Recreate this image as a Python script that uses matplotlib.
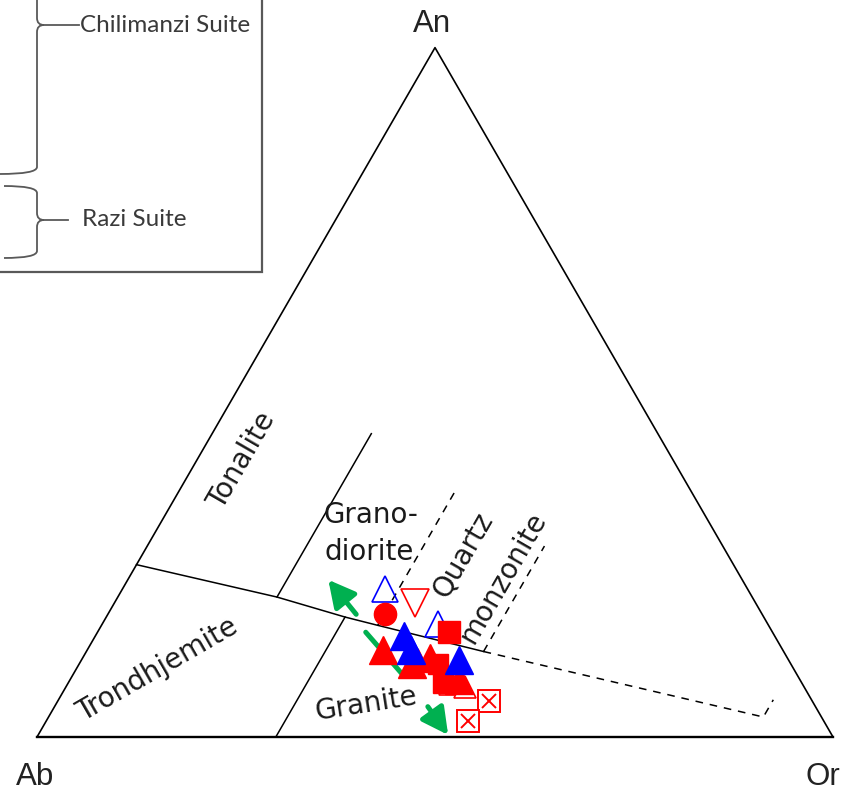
import numpy as np
import matplotlib.pyplot as plt
from matplotlib.path import Path
from matplotlib.patches import PathPatch, FancyArrowPatch, Rectangle

# ternary values in percent: (An, Or), Ab = 100 - An - Or
red_fill_tri_an = [12.6, 10.6, 11.5, 8.3]
red_fill_tri_or = [37.2, 41.8, 43.6, 48.9]
red_square_an = [15.2, 10.6, 7.8]
red_square_or = [44.1, 45.1, 47.1]
red_circle_an = [17.8]
red_circle_or = [34.8]
red_open_tri_an = [11.2, 7.7, 7.3]
red_open_tri_or = [42.3, 48.0, 50.1]
red_inv_tri_an = [19.4]
red_inv_tri_or = [37.8]
red_boxx_an = [5.2, 2.3]
red_boxx_or = [54.2, 53.0]
blue_fill_tri_an = [14.7, 12.6, 11.2]
blue_fill_tri_or = [38.7, 40.7, 47.4]
blue_open_tri_an = [21.5, 16.4]
blue_open_tri_or = [33.0, 42.2]

# trend arrows (start An, start Or, end An, end Or)
arrows = [(17.8, 31.2, 22.8, 25.2), (15.2, 33.7, 8.9, 41.6), (4.4, 46.9, 0.3, 51.5)]
arrow_heads = [True, False, True]

# field boundaries (An, Or)
main_solid_an = [25.0, 20.3, 17.4, 16.2, 12.4]
main_solid_or = [0.0, 20.0, 30.0, 34.7, 49.9]
main_dash_an = [12.4, 2.9, 5.4]
main_dash_or = [49.9, 89.8, 89.8]
ton_gd_an, ton_gd_or = [20.3, 44.0], [20.0, 20.0]
tr_gr_an, tr_gr_or = [0.0, 17.4], [30.0, 30.0]
gd_qm_an, gd_qm_or = [16.2, 35.8], [34.7, 34.7]
qm_gr_an, qm_gr_or = [12.4, 27.7], [49.9, 49.9]

RED = '#FF0000'
BLUE = '#0000FF'
GREEN = '#00B050'
GREY = '#595959'


def tern(an, orr):
    an = np.asarray(an) / 100.0
    orr = np.asarray(orr) / 100.0
    return orr + an / 2.0, an * np.sqrt(3) / 2.0


W, H = 841, 793
fig = plt.figure(figsize=(W / 100, H / 100), dpi=100)
ax = fig.add_axes([0, 0, 1, 1])
ax.set_xlim(-37 / 796, (W - 37) / 796)
ax.set_ylim((737 - H) / 796, 737 / 796)
ax.axis('off')

# outline
tx, ty = tern([0, 0, 100, 0], [0, 100, 0, 0])
ax.plot(tx, ty, color='black', lw=1.2, zorder=2)
bx, by = tern([0, 0], [0, 100])
ax.plot(bx, by, color='black', lw=1.7, zorder=2)

line_kw = dict(color='black', lw=1.1, zorder=2)
dash_kw = dict(color='black', lw=1.1, zorder=2, dashes=(5, 4.5))
ax.plot(*tern(main_solid_an, main_solid_or), **line_kw)
ax.plot(*tern(main_dash_an, main_dash_or), **dash_kw)
ax.plot(*tern(ton_gd_an, ton_gd_or), **line_kw)
ax.plot(*tern(tr_gr_an, tr_gr_or), **line_kw)
ax.plot(*tern(gd_qm_an, gd_qm_or), **dash_kw)
ax.plot(*tern(qm_gr_an, qm_gr_or), **dash_kw)

# arrows
for (a0, o0, a1, o1), head in zip(arrows, arrow_heads):
    (x0, x1), (y0, y1) = tern([a0, a1], [o0, o1])
    style = '-|>,head_length=0.8,head_width=0.42' if head else '-'
    ax.add_patch(FancyArrowPatch((x0, y0), (x1, y1), arrowstyle=style,
                                 mutation_scale=20, color=GREEN, lw=3.6,
                                 shrinkA=0, shrinkB=0, zorder=3))

# samples
ax.plot(*tern(red_open_tri_an, red_open_tri_or), ls='none', marker='^', ms=16,
        mfc='white', mec=RED, mew=1.2, zorder=4)
ax.plot(*tern(red_fill_tri_an, red_fill_tri_or), ls='none', marker='^', ms=20,
        mfc=RED, mec=RED, zorder=5)
ax.plot(*tern(red_square_an[1:], red_square_or[1:]), ls='none', marker='s', ms=15,
        mfc=RED, mec=RED, zorder=5)
ax.plot(*tern(blue_fill_tri_an, blue_fill_tri_or), ls='none', marker='^', ms=20,
        mfc=BLUE, mec=BLUE, zorder=6)
ax.plot(*tern(blue_open_tri_an, blue_open_tri_or), ls='none', marker='^', ms=19,
        mfc='none', mec=BLUE, mew=1.2, zorder=6)
ax.plot(*tern(red_square_an[:1], red_square_or[:1]), ls='none', marker='s', ms=16,
        mfc=RED, mec=RED, zorder=7)
ax.plot(*tern(red_inv_tri_an, red_inv_tri_or), ls='none', marker='v', ms=20,
        mfc='white', mec=RED, mew=1.2, zorder=7)
ax.plot(*tern(red_circle_an, red_circle_or), ls='none', marker='o', ms=16,
        mfc=RED, mec=RED, zorder=7)
ax.plot(*tern(red_boxx_an, red_boxx_or), ls='none', marker='s', ms=16,
        mfc='white', mec=RED, mew=1.4, zorder=8)
ax.plot(*tern(red_boxx_an, red_boxx_or), ls='none', marker='x', ms=10,
        mec=RED, mew=1.4, zorder=9)

# overlay in pixel coordinates for labels and legend box
ov = fig.add_axes([0, 0, 1, 1], facecolor='none')
ov.set_xlim(0, W)
ov.set_ylim(H, 0)
ov.axis('off')

vert_font = dict(family='Liberation Sans', fontsize=22.5, color='#222222')
ov.text(432, 24, 'An', ha='center', va='center', **vert_font)
ov.text(35, 777, 'Ab', ha='center', va='center', **vert_font)
ov.text(840, 777, 'Or', ha='right', va='center', **vert_font)

field_font = dict(family='DejaVu Sans', fontsize=20, color='#1a1a1a')
ov.text(242, 461, 'Tonalite', rotation=60, ha='center', va='center',
        rotation_mode='anchor', **field_font)
ov.text(157, 670, 'Trondhjemite', rotation=30, ha='center', va='center',
        rotation_mode='anchor', **field_font)
ov.text(324, 523, 'Grano-', ha='left', va='baseline', **field_font)
ov.text(325, 560, 'diorite', ha='left', va='baseline', **field_font)
ov.text(463, 555, 'Quartz', rotation=60, ha='center', va='center',
        rotation_mode='anchor', **field_font)
ov.text(503, 578, 'monzonite', rotation=60, ha='center', va='center',
        rotation_mode='anchor', **field_font)
ov.text(366, 704, 'Granite', rotation=9, ha='center', va='center',
        rotation_mode='anchor', **field_font)

# legend box (cut off at the top left)
ov.add_patch(Rectangle((-20, -20), 282, 292, fill=False, ec=GREY, lw=1.6, zorder=10))


def brace(x_v, y_top, y_tip, y_bot, x_end_top, x_end_bot, r=7):
    verts = [(x_end_top, y_top), (x_v, y_top), (x_v, y_top + r),
             (x_v, y_tip - r), (x_v, y_tip), (x_v + r, y_tip),
             (x_v, y_tip), (x_v, y_tip + r),
             (x_v, y_bot - r), (x_v, y_bot), (x_end_bot, y_bot)]
    codes = [Path.MOVETO, Path.CURVE3, Path.CURVE3,
             Path.LINETO, Path.CURVE3, Path.CURVE3,
             Path.CURVE3, Path.CURVE3,
             Path.LINETO, Path.CURVE3, Path.CURVE3]
    ov.add_patch(PathPatch(Path(verts, codes), fill=False, ec=GREY, lw=1.3, zorder=10))


brace(37, -60, 25, 174, 0, 0)
ov.plot([44, 79], [25, 25], color=GREY, lw=1.3, zorder=10)
brace(37, 186, 220, 258, 4, 4)
ov.plot([44, 68], [220, 220], color=GREY, lw=1.3, zorder=10)

leg_font = dict(family='Lato', fontsize=17.5, color='#3a3a3a')
ov.text(80, 25, 'Chilimanzi Suite', ha='left', va='center', **leg_font)
ov.text(82, 220, 'Razi Suite', ha='left', va='center', **leg_font)

fig.savefig('out.png', dpi=100)
